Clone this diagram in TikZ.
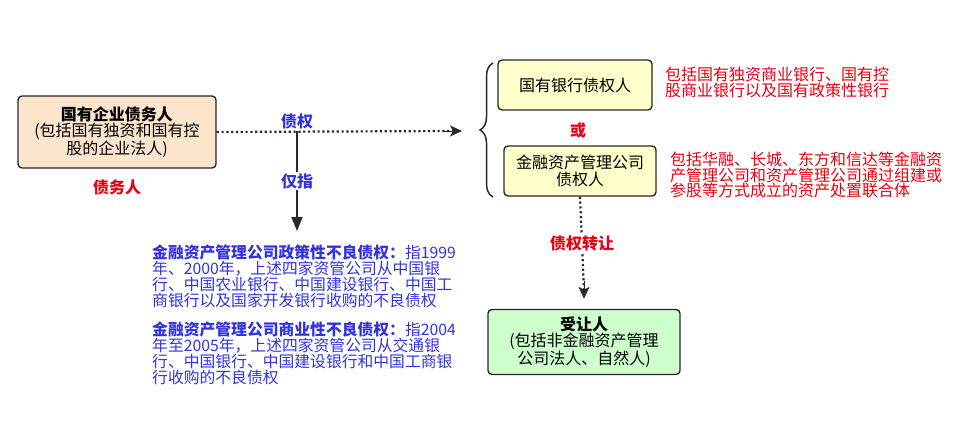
\documentclass[tikz,border=0pt]{standalone}
\usepackage{fontspec}
\setmainfont{Noto Sans CJK SC}
\definecolor{peach}{RGB}{252,229,205}
\definecolor{paleyellow}{RGB}{255,255,204}
\definecolor{palegreen}{RGB}{204,255,204}
\definecolor{edgegray}{RGB}{40,40,40}
\definecolor{notered}{RGB}{230,0,18}
\definecolor{noteblue}{RGB}{51,51,221}
\usetikzlibrary{arrows.meta, positioning, calc, decorations.pathreplacing}
\tikzset{
  party/.style={rectangle, rounded corners=4pt,
    draw=edgegray, line width=1.4pt, align=center,
    font=\fontsize{16}{16.5}\selectfont, inner sep=2pt},
  debtorbox/.style={party, fill=peach, minimum width=198pt, minimum height=72pt},
  bankbox/.style={party, fill=paleyellow, minimum width=154pt, minimum height=50pt},
  transbox/.style={party, fill=palegreen, minimum width=192pt, minimum height=65pt},
  rednote/.style={text=notered, align=left, inner sep=0pt,
    font=\fontsize{16}{15.5}\selectfont},
  bluenote/.style={text=noteblue, align=left, inner sep=0pt,
    font=\fontsize{15.8}{16}\selectfont},
  tag/.style={font=\fontsize{16}{16}\selectfont\bfseries, inner sep=1pt},
  dotline/.style={line width=2.2pt, dash pattern=on 2.2pt off 2.6pt, color=edgegray},
  dottip/.style={-{Stealth[length=12pt,width=11pt,inset=3pt]}, line width=1pt,
    draw=edgegray, fill=edgegray},
  arrow/.style={-{Triangle[length=14pt,width=11pt]}, line width=1.5pt, color=edgegray},
}
\begin{document}
\begin{tikzpicture}[x=1pt, y=-1pt]
\useasboundingbox (0,0) rectangle (966,424);

% debtor side
\node[debtorbox] (debtor) at (117,132) {\textbf{国有企业债务人}\\(包括国有独资和国有控\\股的企业法人)};
\node[tag, text=notered] (debtortag) at (117,187) {债务人};

% creditor side
\node[bankbox] (bank) at (575,85) {国有银行债权人};
\node[bankbox, minimum width=152pt] (amc) at (580,171) {金融资产管理公司\\债权人};
\node[tag, text=notered] (ortag) at (578,130) {或};
\node[rednote, anchor=north west] (banknote) at (665,67) {包括国有独资商业银行、国有控\\股商业银行以及国有政策性银行};
\node[rednote, anchor=north west] (amcnote) at (670,152) {包括华融、长城、东方和信达等金融资\\产管理公司和资产管理公司通过组建或\\参股等方式成立的资产处置联合体};
\draw[line width=1.5pt, color=edgegray, decorate,
  decoration={brace, amplitude=13pt}] (493,197) -- (493,63)
  coordinate[pos=0.5] (bracemid);
\coordinate (bracetip) at (462,131);

% transferee
\node[transbox] (trans) at (584,342) {\textbf{受让人}\\(包括非金融资产管理\\公司法人、自然人)};

% connectors
\draw[dotline] (debtor.east) -- ($(bracetip)+(-8,0)$);
\draw[dottip] ($(bracetip)+(-18,0)$) -- (bracetip);
\node[tag, text=noteblue] (claimtag) at (297,121) {债权};
\coordinate (split) at (297,131);
\coordinate (listtop) at (297,231);
\draw[arrow] (split) -- (listtop)
  node[midway, tag, fill=white, text=noteblue] (onlytag) {仅指};
\coordinate (transtip) at ($(trans.north)+(0,-10)$);
\draw[dotline] (amc.south) -- ($(transtip)+(0,-8)$)
  node[pos=0.5, tag, fill=white, text=notered] (transfertag) {债权转让};
\draw[dottip] ($(transtip)+(0,-18)$) -- (transtip);

% non-performing claims
\node[bluenote, anchor=north west] (policynote) at (152,245)
  {\textbf{金融资产管理公司政策性不良债权：}指1999\\年、2000年，上述四家资管公司从中国银\\行、中国农业银行、中国建设银行、中国工\\商银行以及国家开发银行收购的不良债权};
\node[bluenote, anchor=north west] (commnote) at (152,322)
  {\textbf{金融资产管理公司商业性不良债权：}指2004\\年至2005年，上述四家资管公司从交通银\\行、中国银行、中国建设银行和中国工商银\\行收购的不良债权};
\end{tikzpicture}
\end{document}
